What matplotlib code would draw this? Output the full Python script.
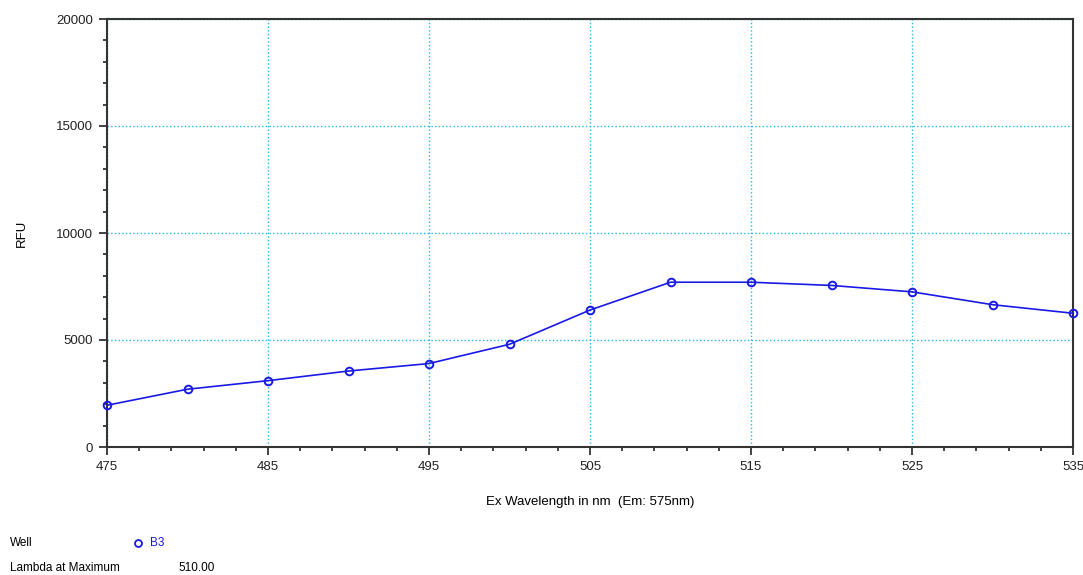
import matplotlib
matplotlib.use("Agg")
import matplotlib.pyplot as plt
from matplotlib.ticker import MultipleLocator
from matplotlib.lines import Line2D

plt.rcParams['font.family'] = ['Liberation Sans', 'DejaVu Sans']

# excitation scan, well B3
wavelength = [475, 480, 485, 490, 495, 500, 505, 510, 515, 520, 525, 530, 535]
rfu = [1950, 2700, 3100, 3550, 3900, 4800, 6400, 7700, 7700, 7550, 7250, 6650, 6250]
well_name = "B3"
lambda_max = 510.00

fig = plt.figure(figsize=(10.83, 5.75), dpi=100)
ax = fig.add_axes([107 / 1083, 1 - 447 / 575, (1073 - 107) / 1083, (447 - 19) / 575])

ax.plot(wavelength, rfu, color='#1a1ae6', lw=1.2, marker='o', ms=5.5,
        mfc='none', mec='#1a1ae6', mew=1.4, clip_on=False, zorder=3)

ax.set_xlim(475, 535)
ax.set_ylim(0, 20000)
ax.xaxis.set_major_locator(MultipleLocator(10, offset=5))
ax.xaxis.set_minor_locator(MultipleLocator(2, offset=1))
ax.yaxis.set_major_locator(MultipleLocator(5000))
ax.yaxis.set_minor_locator(MultipleLocator(1000))
ax.tick_params(which='major', direction='out', length=6, width=1.2, labelsize=9.5,
               colors='#222222', pad=4)
ax.tick_params(which='minor', direction='out', length=3, width=1.2, colors='#222222')

ax.grid(True, which='major', color='#22b8e8', ls=':', lw=1.0, zorder=0)
for s in ax.spines.values():
    s.set_color('#333333')
    s.set_linewidth(1.5)

ax.set_xlabel("Ex Wavelength in nm  (Em: 575nm)", fontsize=9.5, labelpad=17)
ax.set_ylabel("RFU", fontsize=9.5, labelpad=20)

# well summary beneath the chart
fig.text(10 / 1083, 1 - 543 / 575, "Well", fontsize=8.5, va='center')
fig.add_artist(Line2D([138 / 1083], [1 - 543 / 575], marker='o', ms=5, mfc='none',
                      mec='#1a1ae6', mew=1.3, transform=fig.transFigure))
fig.text(150 / 1083, 1 - 543 / 575, well_name, fontsize=8.5, va='center', color='#1a1ae6')
fig.text(10 / 1083, 1 - 568 / 575, "Lambda at Maximum", fontsize=8.5, va='center')
fig.text(178 / 1083, 1 - 568 / 575, f"{lambda_max:.2f}", fontsize=8.5, va='center')

fig.savefig("out.png", dpi=100)
